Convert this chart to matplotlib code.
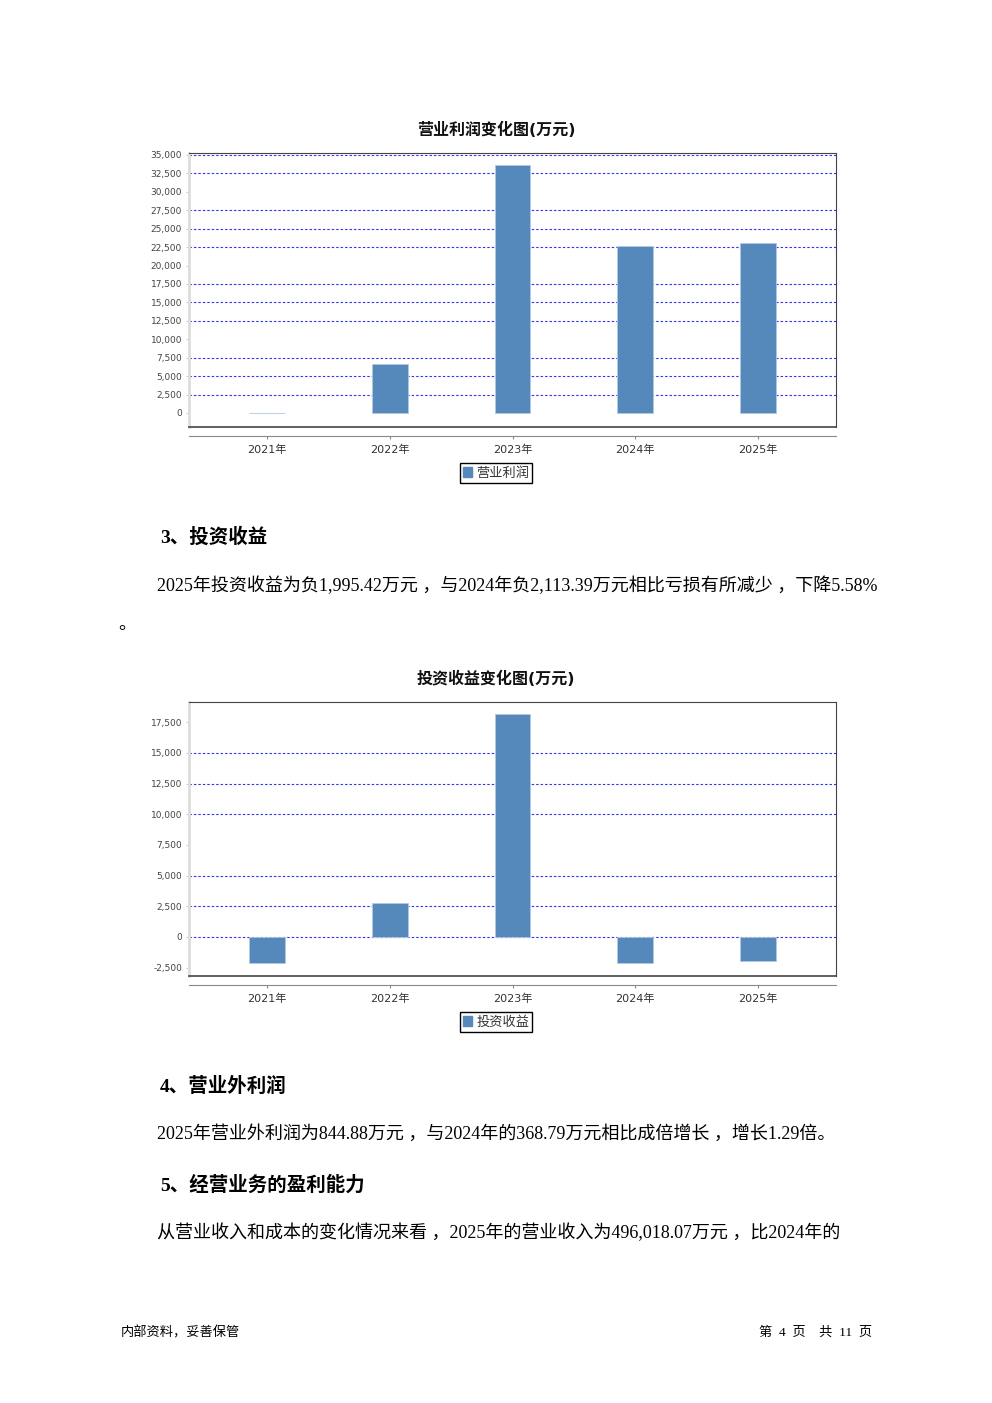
import matplotlib
matplotlib.use("Agg")
import matplotlib.pyplot as plt
from matplotlib.patches import Patch

# ── Data ─────────────────────────────────────────────────────────────────────
years = ["2021年", "2022年", "2023年", "2024年", "2025年"]

op_profit = [30, 6650, 33650, 22650, 23050]           # 营业利润 (万元)
op_ticks = list(range(0, 35001, 2500))
op_grid = [2500, 5000, 7500, 12500, 15000, 17500, 22500, 25000, 27500, 32500, 35000]

inv_income = [-2150, 2790, 18150, -2113.39, -1995.42]  # 投资收益 (万元)
inv_ticks = list(range(-2500, 17501, 2500))
inv_grid = [0, 2500, 5000, 10000, 12500, 15000]

# ── Style ────────────────────────────────────────────────────────────────────
BAR = "#5588bb"
EDGE = "#b4c8e0"
GRID = "#3333ee"
SANS = ["DejaVu Sans", "Noto Sans CJK SC"]
SERIF = ["Liberation Serif", "Noto Sans CJK SC"]

plt.rcParams["font.family"] = SANS

W, H = 992, 1403
fig = plt.figure(figsize=(W / 100, H / 100), dpi=100)
fig.patch.set_facecolor("white")


def px(x, y):
    return x / W, 1 - y / H


def draw_chart(top, title, label, values, ticks, grid, ylim):
    left, right, bottom = 189, 836, top + 274
    ax = fig.add_axes([left / W, 1 - bottom / H, (right - left) / W, (bottom - top) / H])
    xs = list(range(len(years)))
    ax.bar(xs, values, width=0.29, color=BAR, edgecolor=EDGE, linewidth=0.6, zorder=3)
    for g in grid:
        ax.axhline(g, color=GRID, lw=0.8, dashes=(2.2, 1.8), zorder=1)
    ax.set_xlim(-0.635, len(years) - 1 + 0.635)
    ax.set_ylim(*ylim)
    ax.set_yticks(ticks)
    ax.set_yticklabels([f"{t:,}" for t in ticks])
    ax.set_xticks(xs)
    ax.set_xticklabels(years)

    ax.spines["left"].set_color("#dddddd")
    ax.spines["left"].set_linewidth(2)
    ax.spines["top"].set_color("#444444")
    ax.spines["right"].set_color("#444444")
    ax.spines["bottom"].set_position(("outward", 6.5))
    ax.spines["bottom"].set_color("#888888")
    ax.plot([0, 1], [0, 0], transform=ax.transAxes, color="#444444", lw=1.2,
            clip_on=False, zorder=4)

    ax.tick_params(axis="y", length=2, color="#cccccc", labelsize=6.5,
                   labelcolor="#444444", pad=3)
    ax.tick_params(axis="x", length=2, color="#888888", labelsize=8,
                   labelcolor="#333333", pad=4)

    fig.text(*px(496, top - 23), title, ha="center", va="center",
             fontsize=11.5, fontweight="bold", color="#111111")
    fig.legend(handles=[Patch(facecolor=BAR, edgecolor=BAR, label=label)],
               loc="center", bbox_to_anchor=px(496, top + 320),
               frameon=True, fancybox=False, edgecolor="black", framealpha=1,
               fontsize=9.5, handlelength=0.7, handleheight=0.7,
               handletextpad=0.3, borderpad=0.25, labelcolor="#333333")
    return ax


draw_chart(153, "营业利润变化图(万元)", "营业利润", op_profit, op_ticks, op_grid,
           (-1900, 35270))
draw_chart(702, "投资收益变化图(万元)", "投资收益", inv_income, inv_ticks, inv_grid,
           (-3180, 19140))

# ── Body text ────────────────────────────────────────────────────────────────
def heading(y, s):
    fig.text(*px(160, y), s, ha="left", va="center", fontsize=14,
             fontweight="bold", family=SERIF, color="#000000")


def para(x, y, s):
    fig.text(*px(x, y), s, ha="left", va="center", fontsize=13,
             family=SERIF, color="#000000")


heading(537, "3、投资收益")
para(157, 586, "2025年投资收益为负1,995.42万元 ，与2024年负2,113.39万元相比亏损有所减少 ，下降5.58%")
para(118, 624, "。")
heading(1086, "4、营业外利润")
para(157, 1134, "2025年营业外利润为844.88万元 ，与2024年的368.79万元相比成倍增长 ，增长1.29倍。")
heading(1185, "5、经营业务的盈利能力")
para(157, 1233, "从营业收入和成本的变化情况来看 ，2025年的营业收入为496,018.07万元 ，比2024年的")

fig.text(*px(121, 1333), "内部资料，妥善保管", ha="left", va="center",
         fontsize=9.5, family=SERIF)
fig.text(*px(872, 1333), "第  4  页    共  11  页", ha="right", va="center",
         fontsize=9.5, family=SERIF)

fig.savefig("out.png", dpi=100, facecolor="white")
